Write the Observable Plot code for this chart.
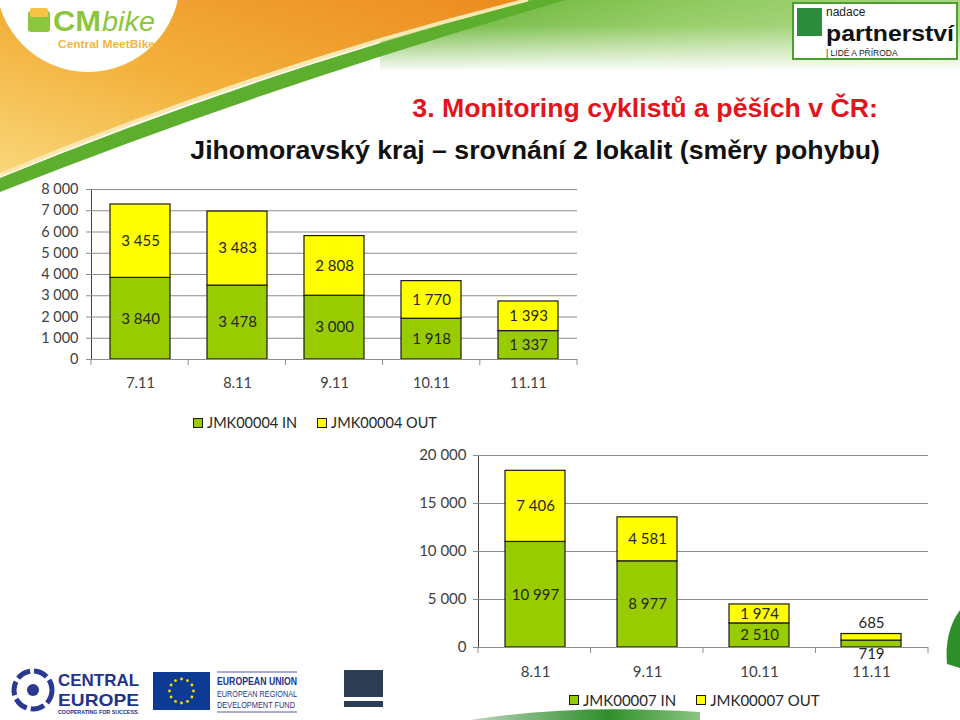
<!DOCTYPE html>
<html><head><meta charset="utf-8">
<script src="https://cdn.jsdelivr.net/npm/d3@7"></script>
<script src="https://cdn.jsdelivr.net/npm/@observablehq/plot@0.6"></script>
<style>
html,body{margin:0;padding:0;background:#fff;}
#stage{position:relative;width:960px;height:720px;overflow:hidden;font-family:"Liberation Sans",Arial,sans-serif;}
#deco{position:absolute;left:0;top:0;}
.chart{position:absolute;}
.chart svg{overflow:visible;}
.chart [aria-label^="y-axis"] path,.chart [aria-label^="y-axis"] line{stroke:#8c8c8c;}
.legend{position:absolute;display:flex;align-items:center;font-family:Lato,"Open Sans",sans-serif;color:#262626;white-space:nowrap;}
.legend .item{display:flex;align-items:center;margin-right:20px;}
.legend .sw{width:8px;height:8px;border:1px solid #1a1a1a;display:inline-block;margin-right:4px;}
</style></head>
<body>
<div id="stage">
<svg id="deco" width="960" height="720">
<defs>
 <linearGradient id="og" x1="0" y1="1" x2="1" y2="0"><stop offset="0" stop-color="#f9d77a"/><stop offset="0.45" stop-color="#f3b03a"/><stop offset="1" stop-color="#ec8a1e"/></linearGradient>
 <linearGradient id="gh" x1="0" y1="0" x2="1" y2="0"><stop offset="0" stop-color="#5faf2c"/><stop offset="0.5" stop-color="#8cc85a"/><stop offset="1" stop-color="#a9d680"/></linearGradient>
 <linearGradient id="wv" x1="0" y1="0" x2="0" y2="1"><stop offset="0" stop-color="#fff" stop-opacity="0"/><stop offset="0.35" stop-color="#fff" stop-opacity="0.1"/><stop offset="1" stop-color="#fff" stop-opacity="1"/></linearGradient>
 <linearGradient id="bg" x1="0" y1="0" x2="1" y2="0"><stop offset="0" stop-color="#1f7d22" stop-opacity="0.3"/><stop offset="0.6" stop-color="#2e8f2a"/><stop offset="1" stop-color="#3b9b2c" stop-opacity="0.6"/></linearGradient>
</defs>
<rect x="380" y="0" width="580" height="70" fill="url(#gh)"/>
<rect x="380" y="0" width="580" height="72" fill="url(#wv)"/>
<path d="M0,0 L528,0 Q255,68 0,175 Z" fill="url(#og)"/>
<path d="M0,175 Q255,68 528,0" fill="none" stroke="#fbe7b0" stroke-width="4"/>
<path d="M0,178 Q258,72 534,0 L566,0 Q268,86 0,192 Z" fill="#5eae2d"/>
<circle cx="88" cy="-20" r="92" fill="#fff"/>
<rect x="28" y="11" width="22" height="21" rx="3" fill="#8cc63f"/>
<rect x="30" y="8" width="18" height="9" rx="2" fill="#f6c343"/>
<text x="53" y="31" font-size="29" font-weight="bold" fill="#8cc63f" textLength="48" lengthAdjust="spacingAndGlyphs">CM</text>
<text x="102" y="31" font-size="28" font-style="italic" fill="#8cc63f" textLength="53" lengthAdjust="spacingAndGlyphs">bike</text>
<text x="58" y="48" font-size="11" font-weight="bold" fill="#f0b640" textLength="97" lengthAdjust="spacingAndGlyphs">Central MeetBike</text>
<rect x="793" y="3" width="164" height="56" fill="#fff" stroke="#4aa02c" stroke-width="2"/>
<rect x="797" y="8" width="25" height="28" fill="#2a8c3c"/>
<text x="826" y="16" font-size="12" fill="#222">nadace</text>
<text x="826" y="41" font-size="22" font-weight="bold" fill="#111" textLength="128" lengthAdjust="spacingAndGlyphs">partnerství</text>
<text x="826" y="56" font-size="8.5" fill="#222">| LIDÉ A PŘÍRODA</text>
<text x="878" y="117" text-anchor="end" font-size="26.7" font-weight="bold" fill="#e3141c">3. Monitoring cyklistů a pěších v ČR:</text>
<text x="880" y="159" text-anchor="end" font-size="26.7" font-weight="bold" fill="#111">Jihomoravský kraj – srovnání 2 lokalit (směry pohybu)</text>
<path d="M960,610 Q944,632 947,664 L960,668 Z" fill="#2e8f2a"/>
<path d="M470,720 Q570,704 700,712 L700,720 Z" fill="url(#bg)"/>
<circle cx="33" cy="690" r="19" fill="none" stroke="#2b3990" stroke-width="5" stroke-dasharray="14 4"/>
<circle cx="33" cy="690" r="6" fill="#2b3990"/>
<text x="58" y="686" font-size="17" font-weight="bold" fill="#23338a" textLength="81" lengthAdjust="spacingAndGlyphs">CENTRAL</text>
<text x="58" y="706" font-size="17" font-weight="bold" fill="#23338a" textLength="81" lengthAdjust="spacingAndGlyphs">EUROPE</text>
<text x="58" y="714" font-size="5" font-weight="bold" fill="#23338a" textLength="81" lengthAdjust="spacingAndGlyphs">COOPERATING FOR SUCCESS.</text>
<rect x="153" y="672" width="57" height="38" fill="#0d3b94"/>
<g id="eustars"></g>
<line x1="217" y1="672" x2="297" y2="672" stroke="#23338a" stroke-width="0.8"/>
<text x="217" y="685" font-size="11" font-weight="bold" fill="#23338a" textLength="80" lengthAdjust="spacingAndGlyphs">EUROPEAN UNION</text>
<text x="217" y="697" font-size="9.5" fill="#23338a" textLength="80" lengthAdjust="spacingAndGlyphs">EUROPEAN REGIONAL</text>
<text x="217" y="708" font-size="9.5" fill="#23338a" textLength="78" lengthAdjust="spacingAndGlyphs">DEVELOPMENT FUND</text>
<line x1="217" y1="712" x2="297" y2="712" stroke="#23338a" stroke-width="0.8"/>
<rect x="344" y="670" width="39" height="27" fill="#2d3e54"/>
<rect x="344" y="701" width="39" height="6" fill="#2d3e54"/>
</svg>
<div id="c1" class="chart" style="left:0px;top:180px;"></div>
<div id="c2" class="chart" style="left:400px;top:440px;"></div>
<div id="l1" class="legend" style="left:193px;top:414px;font-size:14.5px;"></div>
<div id="l2" class="legend" style="left:569px;top:691px;font-size:15px;"></div>
</div>
<script>
// ---- data ----
const dates1 = ["7.11", "8.11", "9.11", "10.11", "11.11"];
const in1 = [3840, 3478, 3000, 1918, 1337];
const out1 = [3455, 3483, 2808, 1770, 1393];
const yTicks1 = [0, 1000, 2000, 3000, 4000, 5000, 6000, 7000, 8000];
const series1 = ["JMK00004 IN", "JMK00004 OUT"];

const dates2 = ["8.11", "9.11", "10.11", "11.11"];
const in2 = [10997, 8977, 2510, 719];
const out2 = [7406, 4581, 1974, 685];
const yTicks2 = [0, 5000, 10000, 15000, 20000];
const series2 = ["JMK00007 IN", "JMK00007 OUT"];

const colors = ["#99cc00", "#ffff00"];

// EU stars (decoration)
{
  const g = d3.select("#eustars");
  for (let i = 0; i < 12; i++) {
    const a = i * Math.PI / 6;
    g.append("circle").attr("cx", 181.5 + 12 * Math.cos(a)).attr("cy", 691 + 12 * Math.sin(a)).attr("r", 1.4).attr("fill", "#ffdd00");
  }
}

const fmt = v => d3.format(",")(v).replace(/,/g, " ");

function stacked(o) {
  const rows = [];
  o.dates.forEach((d, i) => rows.push({date: d, series: o.series[0], value: o.ins[i]}));
  o.dates.forEach((d, i) => rows.push({date: d, series: o.series[1], value: o.outs[i]}));
  const small = d => d.value < o.small;
  const boundaries = (index, scales, values, dim) => {
    const g = d3.create("svg:g");
    const n = o.dates.length;
    const w = dim.width - dim.marginLeft - dim.marginRight;
    const y0 = scales.y(0);
    for (let i = 0; i <= n; i++) {
      const x = dim.marginLeft + i * w / n;
      g.append("line").attr("x1", x).attr("x2", x).attr("y1", y0).attr("y2", y0 + 6).attr("stroke", "#8c8c8c");
    }
    return g.node();
  };
  return Plot.plot({
    width: o.width, height: o.height,
    marginLeft: o.m[0], marginRight: o.m[1], marginTop: o.m[2], marginBottom: o.m[3],
    style: {fontFamily: "Lato, 'Open Sans', sans-serif", fontSize: o.fs + "px", color: "#404040", background: "transparent", overflow: "visible"},
    x: {domain: o.dates, paddingInner: o.pad, paddingOuter: o.pad / 2, tickSize: 0, tickPadding: o.xPad, label: null},
    y: {domain: [0, o.yMax], ticks: o.yTicks, tickFormat: fmt, tickSize: 5, tickPadding: o.yPad, label: null, line: true},
    color: {domain: o.series, range: colors},
    marks: [
      Plot.ruleY(o.yTicks.slice(1), {stroke: "#8c8c8c"}),
      Plot.barY(rows, {x: "date", y: "value", fill: "series", stroke: "#1a1a1a", strokeWidth: 1.2}),
      Plot.ruleY([0], {stroke: "#8c8c8c"}),
      boundaries,
      Plot.text(rows, Plot.stackY({x: "date", y: "value", z: "series", text: d => small(d) ? "" : fmt(d.value), fill: "#262626", fontSize: o.lfs})),
      Plot.text(rows, Plot.stackY1({x: "date", y: "value", z: "series", text: d => small(d) && d.series === o.series[0] ? fmt(d.value) : "", fill: "#262626", fontSize: o.lfs, dy: 7})),
      Plot.text(rows, Plot.stackY2({x: "date", y: "value", z: "series", text: d => small(d) && d.series === o.series[1] ? fmt(d.value) : "", fill: "#262626", fontSize: o.lfs, dy: -11}))
    ]
  });
}

document.getElementById("c1").append(stacked({
  dates: dates1, ins: in1, outs: out1, series: series1, yTicks: yTicks1, yMax: 8000,
  width: 600, height: 220, m: [91, 23, 9, 41], pad: 0.38, xPad: 18, yPad: 8, fs: 14.5, lfs: 15, small: 0
}));
document.getElementById("c2").append(stacked({
  dates: dates2, ins: in2, outs: out2, series: series2, yTicks: yTicks2, yMax: 20000,
  width: 560, height: 250, m: [78, 32, 15, 43], pad: 0.46, xPad: 19, yPad: 7, fs: 15, lfs: 15, small: 1000
}));

function legend(id, series) {
  const el = d3.select("#" + id);
  series.forEach((s, i) => {
    const it = el.append("div").attr("class", "item");
    it.append("span").attr("class", "sw").style("background", colors[i]);
    it.append("span").text(s);
  });
}
legend("l1", series1);
legend("l2", series2);
</script>
</body></html>
